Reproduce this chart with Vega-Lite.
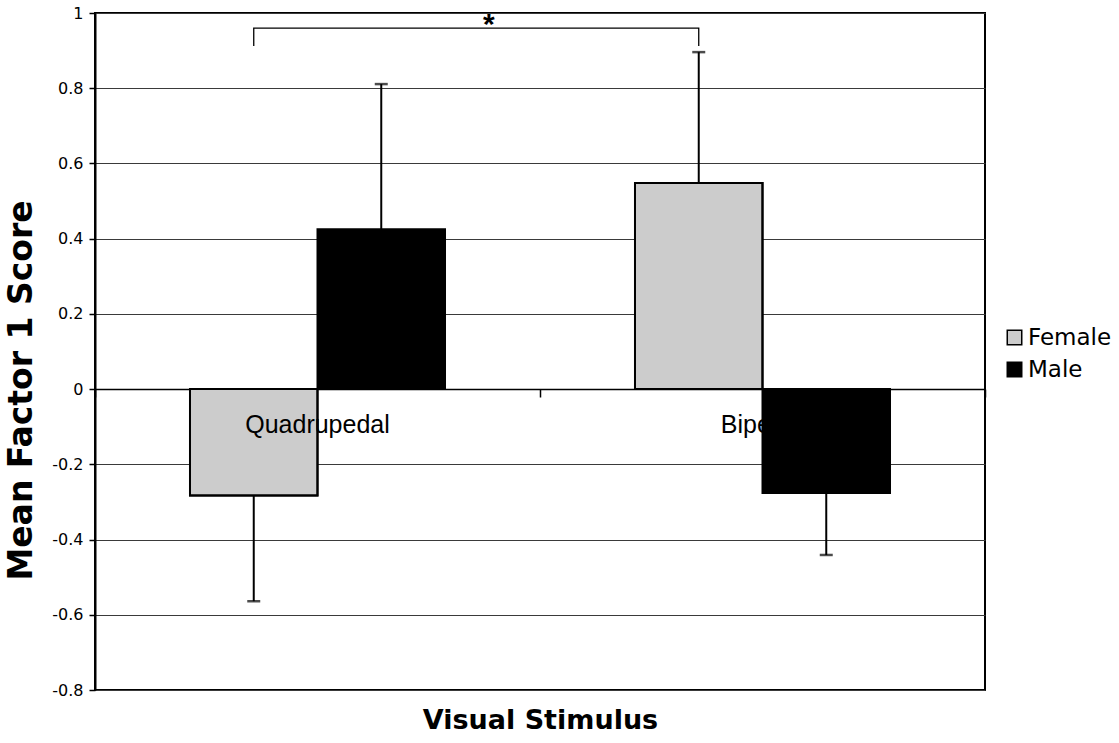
{
  "$schema": "https://vega.github.io/schema/vega-lite/v6.json",
  "width": 890,
  "height": 677,
  "autosize": {"type": "none"},
  "padding": {"left": 95, "top": 13, "right": 134, "bottom": 53},
  "background": "white",
  "config": {
    "view": {"stroke": "black", "strokeWidth": 2},
    "font": "DejaVu Sans"
  },
  "datasets": {
    "bars": [
      {"stimulus": "Quadrupedal", "sex": "Female", "mean": -0.283, "err": -0.564},
      {"stimulus": "Quadrupedal", "sex": "Male", "mean": 0.425, "err": 0.811},
      {"stimulus": "Bipedal", "sex": "Female", "mean": 0.548, "err": 0.896},
      {"stimulus": "Bipedal", "sex": "Male", "mean": -0.276, "err": -0.441}
    ],
    "labels": [
      {"stimulus": "Quadrupedal"},
      {"stimulus": "Bipedal"}
    ],
    "bracket": [
      {"stimulus": "Quadrupedal", "sex": "Female", "value": 0.912, "i": 1},
      {"stimulus": "Quadrupedal", "sex": "Female", "value": 0.96, "i": 2},
      {"stimulus": "Bipedal", "sex": "Female", "value": 0.96, "i": 3},
      {"stimulus": "Bipedal", "sex": "Female", "value": 0.912, "i": 4}
    ],
    "sig": [
      {"stimulus": "Quadrupedal", "mark": "*"}
    ]
  },
  "layer": [
    {
      "data": {"name": "bars"},
      "transform": [{"filter": "datum.sex === 'Female'"}],
      "mark": {"type": "bar", "stroke": "black", "strokeWidth": 2},
      "encoding": {
        "x": {
          "field": "stimulus", "type": "nominal", "sort": ["Quadrupedal", "Bipedal"],
          "scale": {"paddingInner": 0, "paddingOuter": 0},
          "axis": {
            "orient": "bottom", "offset": -301, "domain": true, "domainColor": "black", "domainWidth": 1.5,
            "ticks": true, "tickBand": "extent", "tickSize": 8, "tickColor": "black", "tickWidth": 1.5,
            "labels": false, "grid": false,
            "title": "Visual Stimulus", "titleY": 318, "titleBaseline": "top",
            "titleFontSize": 27, "titleFontWeight": "bold", "titleColor": "black", "titleFont": "DejaVu Sans"
          }
        },
        "xOffset": {"field": "sex", "type": "nominal", "sort": ["Female", "Male"], "scale": {"paddingInner": 0, "paddingOuter": 0.745}},
        "y": {
          "field": "mean", "type": "quantitative",
          "scale": {"domain": [-0.8, 1], "nice": false, "zero": false},
          "axis": {
            "values": [-0.8, -0.6, -0.4, -0.2, 0, 0.2, 0.4, 0.6, 0.8, 1],
            "labelExpr": "toString(round(datum.value*10)/10)",
            "grid": true, "gridColor": "#3a3a3a", "gridWidth": 1,
            "domain": true, "domainColor": "black", "domainWidth": 2,
            "ticks": true, "tickColor": "black", "tickSize": 6, "tickWidth": 1.5,
            "labelFontSize": 16, "labelColor": "black", "labelPadding": 6, "labelFont": "DejaVu Sans",
            "title": "Mean Factor 1 Score", "titleFontSize": 33, "titleFontWeight": "bold",
            "titleColor": "black", "titleFont": "DejaVu Sans",
            "titleX": -74, "titleY": 377, "titleBaseline": "middle", "titleAlign": "center", "titleAngle": -90
          }
        },
        "color": {
          "field": "sex", "type": "nominal",
          "scale": {"domain": ["Female", "Male"], "range": ["#cccccc", "#000000"]},
          "legend": {
            "orient": "none", "legendX": 908, "legendY": 313, "title": null,
            "symbolType": "square", "symbolSize": 210, "symbolStrokeColor": "black", "symbolStrokeWidth": 1.5,
            "labelFontSize": 23, "labelFont": "DejaVu Sans", "labelColor": "black", "rowPadding": 8, "labelOffset": 2
          }
        }
      }
    },
    {
      "data": {"name": "labels"},
      "mark": {"type": "text", "font": "Liberation Sans", "fontSize": 25, "baseline": "alphabetic", "align": "center", "color": "black"},
      "encoding": {
        "x": {"field": "stimulus", "type": "nominal", "sort": ["Quadrupedal", "Bipedal"]},
        "y": {"datum": -0.117, "type": "quantitative"},
        "text": {"field": "stimulus"}
      }
    },
    {
      "data": {"name": "bars"},
      "transform": [{"filter": "datum.sex === 'Male'"}],
      "mark": {"type": "bar", "stroke": "black", "strokeWidth": 2},
      "encoding": {
        "x": {"field": "stimulus", "type": "nominal", "sort": ["Quadrupedal", "Bipedal"]},
        "xOffset": {"field": "sex", "type": "nominal", "sort": ["Female", "Male"]},
        "y": {"field": "mean", "type": "quantitative"},
        "color": {"field": "sex", "type": "nominal"}
      }
    },
    {
      "data": {"name": "bars"},
      "transform": [{"filter": "datum.sex === 'Female'"}],
      "mark": {"type": "bar", "stroke": "black", "strokeWidth": 2, "fillOpacity": 0},
      "encoding": {
        "x": {"field": "stimulus", "type": "nominal", "sort": ["Quadrupedal", "Bipedal"]},
        "xOffset": {"field": "sex", "type": "nominal", "sort": ["Female", "Male"]},
        "y": {"field": "mean", "type": "quantitative"}
      }
    },
    {
      "data": {"name": "bars"},
      "mark": {"type": "rule", "color": "black", "strokeWidth": 2},
      "encoding": {
        "x": {"field": "stimulus", "type": "nominal", "sort": ["Quadrupedal", "Bipedal"]},
        "xOffset": {"field": "sex", "type": "nominal", "sort": ["Female", "Male"]},
        "y": {"field": "mean", "type": "quantitative"},
        "y2": {"field": "err"}
      }
    },
    {
      "data": {"name": "bars"},
      "mark": {"type": "tick", "color": "black", "size": 13, "thickness": 2.5, "orient": "horizontal"},
      "encoding": {
        "x": {"field": "stimulus", "type": "nominal", "sort": ["Quadrupedal", "Bipedal"]},
        "xOffset": {"field": "sex", "type": "nominal", "sort": ["Female", "Male"]},
        "y": {"field": "err", "type": "quantitative"}
      }
    },
    {
      "data": {"name": "bracket"},
      "mark": {"type": "line", "color": "black", "strokeWidth": 1.3},
      "encoding": {
        "x": {"field": "stimulus", "type": "nominal", "sort": ["Quadrupedal", "Bipedal"]},
        "xOffset": {"field": "sex", "type": "nominal", "sort": ["Female", "Male"]},
        "y": {"field": "value", "type": "quantitative"},
        "order": {"field": "i", "type": "quantitative"}
      }
    },
    {
      "data": {"name": "sig"},
      "mark": {"type": "text", "font": "Liberation Sans", "fontSize": 30, "fontWeight": "bold", "baseline": "alphabetic", "align": "center", "color": "black"},
      "encoding": {
        "x": {"field": "stimulus", "type": "nominal", "sort": ["Quadrupedal", "Bipedal"], "bandPosition": 0.885},
        "y": {"datum": 0.945, "type": "quantitative"},
        "text": {"field": "mark"}
      }
    }
  ]
}
